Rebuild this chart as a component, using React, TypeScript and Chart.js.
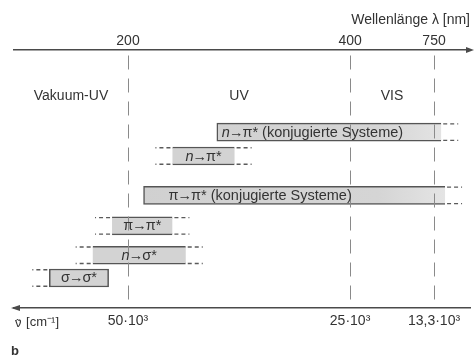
import React, { useEffect, useRef } from 'react';
import { Chart, registerables, LinearScale } from 'chart.js';

// ---------- data ----------
const transitions = [
  'n→π* (konjugierte Systeme)',
  'n→π*',
  'π→π* (konjugierte Systeme)',
  'π→π*',
  'n→σ*',
  'σ→σ*',
];
const bandStartNm = [280, 240, 214, 186, 169, 131];
const bandEndNm = [780, 296, 796, 240, 252, 183];
const bandLevel = [3.0, 4.02, 5.7, 7.0, 8.25, 9.22];

const wavelengthTicks = [200, 400, 750];
const wavenumberLabels = ['50·10³', '25·10³', '13,3·10³'];

const regionNames = ['Vakuum-UV', 'UV', 'VIS'];
const regionFromNm = [100, 200, 400];
const regionToNm = [200, 400, 750];

// ---------- styling ----------
const FONT = "'Liberation Sans', Arial, Helvetica, sans-serif";
const TEXT = '#333';
const LINE = '#4a4a4a';
const bandFrame = ['openRight', 'open', 'openRight', 'open', 'open', 'closed'];
const bandFade = [true, false, true, false, false, false];
const bandDashLeft = [false, true, false, true, true, true];
const bandDashRight = [true, true, true, true, true, false];
const labelInset = [5, null, 25, null, null, null];

// schematic (non-linear) wavelength axis
const AXIS_KNOTS_NM = [100, 200, 400, 900];
const AXIS_KNOTS_FRAC = [0, 0.25, 0.737, 1];

function nmToFrac(v: number) {
  const k = AXIS_KNOTS_NM, f = AXIS_KNOTS_FRAC;
  let i = 0;
  while (i < k.length - 2 && v > k[i + 1]) i++;
  return f[i] + ((v - k[i]) / (k[i + 1] - k[i])) * (f[i + 1] - f[i]);
}
function fracToNm(d: number) {
  const k = AXIS_KNOTS_NM, f = AXIS_KNOTS_FRAC;
  let i = 0;
  while (i < f.length - 2 && d > f[i + 1]) i++;
  return k[i] + ((d - f[i]) / (f[i + 1] - f[i])) * (k[i + 1] - k[i]);
}

class SchematicScale extends LinearScale {
  static id = 'schematic';
  static defaults = LinearScale.defaults;
  getPixelForValue(value: any) {
    if (value === null || value === undefined) return NaN;
    return (this as any).getPixelForDecimal(nmToFrac(value));
  }
  getValueForPixel(pixel: number) {
    return fracToNm((this as any).getDecimalForPixel(pixel));
  }
}

Chart.register(...registerables, SchematicScale as any);

// draws a transition label: leading "n" in italics, arrow set tight
function drawRich(ctx: CanvasRenderingContext2D, text: string, x: number, y: number, align: 'left' | 'center', size: number) {
  const normal = `${size}px ${FONT}`;
  const italic = `italic ${size}px ${FONT}`;
  const parts: { t: string; f: string; kern: number }[] = [];
  let rest = text;
  if (rest.startsWith('n')) {
    parts.push({ t: 'n', f: italic, kern: 0 });
    rest = rest.slice(1);
  }
  const ai = rest.indexOf('→');
  if (ai >= 0) {
    if (ai > 0) parts.push({ t: rest.slice(0, ai), f: normal, kern: 0 });
    parts.push({ t: '→', f: normal, kern: -1 });
    rest = rest.slice(ai + 1);
  }
  if (rest) parts.push({ t: rest, f: normal, kern: 0 });
  const widths = parts.map((p) => {
    ctx.font = p.f;
    return ctx.measureText(p.t).width + 2 * p.kern;
  });
  const total = widths.reduce((a, b) => a + b, 0);
  let cx = align === 'center' ? x - total / 2 : x;
  ctx.textAlign = 'left';
  ctx.textBaseline = 'middle';
  parts.forEach((p, k) => {
    ctx.font = p.f;
    ctx.fillText(p.t, cx + p.kern, y);
    cx += widths[k];
  });
}

const overlayPlugin = {
  id: 'overlay',
  afterDatasetsDraw(chart: any) {
    const { ctx } = chart;
    const meta = chart.getDatasetMeta(0);
    ctx.save();
    ctx.setLineDash([4, 3]);
    ctx.strokeStyle = '#5a5a5a';
    ctx.lineWidth = 1.3;
    const EXT = 15;
    meta.data.forEach((el: any, i: number) => {
      const p = el.getProps(['x', 'base', 'y', 'height'], true);
      const left = Math.min(p.x, p.base);
      const right = Math.max(p.x, p.base);
      const top = p.y - p.height / 2 + 0.75;
      const bot = p.y + p.height / 2 - 0.75;
      [top, bot].forEach((yy) => {
        if (bandDashLeft[i]) {
          ctx.beginPath();
          ctx.moveTo(left - 2, yy);
          ctx.lineTo(left - 2 - EXT, yy);
          ctx.stroke();
        }
        if (bandDashRight[i]) {
          ctx.beginPath();
          ctx.moveTo(right + 2, yy);
          ctx.lineTo(right + 2 + EXT, yy);
          ctx.stroke();
        }
      });
    });
    ctx.restore();
  },
  afterDraw(chart: any) {
    const { ctx, chartArea, scales } = chart;
    const xs = scales.x, ys = scales.y;
    const meta = chart.getDatasetMeta(0);
    ctx.save();
    ctx.fillStyle = TEXT;

    // band labels
    meta.data.forEach((el: any, i: number) => {
      const p = el.getProps(['x', 'base', 'y'], true);
      const left = Math.min(p.x, p.base);
      const right = Math.max(p.x, p.base);
      const inset = labelInset[i];
      if (inset === null) drawRich(ctx, transitions[i], (left + right) / 2, p.y + 0.5, 'center', 14.5);
      else drawRich(ctx, transitions[i], left + inset, p.y + 0.5, 'left', 14.5);
    });

    // region labels
    ctx.font = `14px ${FONT}`;
    ctx.textAlign = 'center';
    ctx.textBaseline = 'middle';
    const ry = ys.getPixelForValue(1.47);
    regionNames.forEach((name, i) => {
      const cx = xs.getPixelForValue((regionFromNm[i] + regionToNm[i]) / 2);
      ctx.fillText(name, cx, ry);
    });

    // arrow heads
    ctx.fillStyle = LINE;
    const ty = chartArea.top;
    ctx.beginPath();
    ctx.moveTo(chartArea.right + 4, ty);
    ctx.lineTo(chartArea.right - 4, ty - 3);
    ctx.lineTo(chartArea.right - 4, ty + 3);
    ctx.closePath();
    ctx.fill();
    const by = chartArea.bottom;
    ctx.beginPath();
    ctx.moveTo(chartArea.left - 3, by);
    ctx.lineTo(chartArea.left + 6, by - 3);
    ctx.lineTo(chartArea.left + 6, by + 3);
    ctx.closePath();
    ctx.fill();

    // bottom axis name (ν with tilde) and panel letter
    ctx.fillStyle = TEXT;
    ctx.textAlign = 'left';
    ctx.textBaseline = 'middle';
    const nx = chartArea.left + 1;
    const ny = chartArea.bottom + 14;
    ctx.font = `13px ${FONT}`;
    ctx.fillText('ν', nx, ny + 1);
    const nw = ctx.measureText('ν').width;
    ctx.textAlign = 'center';
    ctx.font = `11px ${FONT}`;
    ctx.fillText('˜', nx + nw / 2, ny + 1.5);
    ctx.textAlign = 'left';
    ctx.font = `13px ${FONT}`;
    ctx.fillText(' [cm⁻¹]', nx + nw + 1, ny);
    ctx.font = `bold 13px ${FONT}`;
    ctx.fillText('b', chartArea.left - 3, chartArea.bottom + 43);
    ctx.restore();
  },
};

export default function App() {
  const ref = useRef<HTMLCanvasElement | null>(null);

  useEffect(() => {
    if (!ref.current) return;
    Chart.defaults.font.family = FONT;
    const data = transitions.map((_, i) => ({ x: [bandStartNm[i], bandEndNm[i]], y: bandLevel[i] }));
    const frameWidth = (i: number) => {
      const w = 1.5;
      const f = bandFrame[i];
      if (f === 'closed') return { top: w, bottom: w, left: w, right: w };
      if (f === 'openRight') return { top: w, bottom: w, left: w, right: 0 };
      return { top: w, bottom: w, left: 0, right: 0 };
    };
    const chart = new Chart(ref.current, {
      type: 'bar',
      data: {
        datasets: [
          {
            data: data as any,
            barThickness: 18,
            borderColor: '#555',
            borderSkipped: false,
            borderWidth: (c: any) => frameWidth(c.dataIndex),
            backgroundColor: (c: any) => {
              const i = c.dataIndex;
              const area = c.chart.chartArea;
              if (!area || !bandFade[i]) return '#d3d3d3';
              const g = c.chart.ctx.createLinearGradient(area.left, 0, area.right, 0);
              g.addColorStop(0, '#cecece');
              g.addColorStop(0.8, '#d5d5d5');
              g.addColorStop(1, '#eaeaea');
              return g;
            },
          } as any,
        ],
      },
      options: {
        indexAxis: 'y',
        animation: false,
        responsive: false,
        devicePixelRatio: 1,
        layout: { padding: { left: 14, right: 4, top: 0, bottom: 0 } },
        plugins: { legend: { display: false }, tooltip: { enabled: false } },
        scales: {
          x: {
            type: 'schematic' as any,
            position: 'top',
            min: 100,
            max: 900,
            afterBuildTicks: (s: any) => {
              s.ticks = wavelengthTicks.map((v) => ({ value: v }));
            },
            afterFit: (s: any) => {
              s.height = 50;
            },
            ticks: {
              callback: (v: any) => String(v),
              padding: 0,
              color: TEXT,
              font: { size: 14 },
              maxRotation: 0,
              autoSkip: false,
            },
            grid: { color: '#8a8a8a', lineWidth: 1, drawTicks: false, z: 1 } as any,
            border: { display: true, color: LINE, width: 1.5, dash: [14, 9], dashOffset: 18, z: 1 },
            title: {
              display: true,
              text: 'Wellenlänge λ [nm]',
              align: 'end',
              color: TEXT,
              font: { size: 14 },
              padding: { top: 12, bottom: 0 },
            },
          } as any,
          x2: {
            type: 'schematic' as any,
            position: 'bottom',
            min: 100,
            max: 900,
            afterBuildTicks: (s: any) => {
              s.ticks = wavelengthTicks.map((v) => ({ value: v }));
            },
            afterFit: (s: any) => {
              s.height = 50;
            },
            ticks: {
              callback: (_v: any, i: number) => wavenumberLabels[i],
              padding: 5,
              color: TEXT,
              font: { size: 14 },
              maxRotation: 0,
              autoSkip: false,
            },
            grid: { display: false, drawTicks: false },
            border: { display: true, color: LINE, width: 1.5 },
          } as any,
          y: {
            type: 'linear',
            reverse: true,
            min: 0,
            max: 10,
            display: false,
          },
        },
      },
      plugins: [overlayPlugin as any],
    });
    return () => chart.destroy();
  }, []);

  return (
    <div style={{ position: 'absolute', left: 0, top: 0, width: 474, height: 358, background: '#fff' }}>
      <canvas ref={ref} width={474} height={358} style={{ display: 'block', width: 474, height: 358 }} />
    </div>
  );
}
